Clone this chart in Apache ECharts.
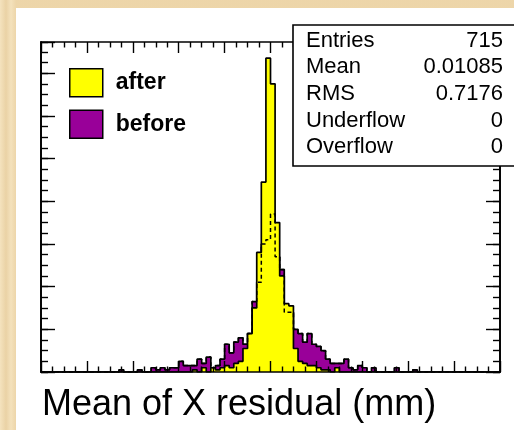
<!DOCTYPE html>
<html>
<head>
<meta charset="utf-8">
<script src="https://cdn.jsdelivr.net/npm/echarts@6/dist/echarts.min.js"></script>
<style>
html,body{margin:0;padding:0;width:514px;height:430px;overflow:hidden;
  background:#efd9ae;
  background-image:linear-gradient(90deg, rgba(255,245,220,0.35) 0px, rgba(220,190,140,0.25) 6px, rgba(255,245,220,0.3) 11px, rgba(230,200,150,0.2) 16px);}
#paper{position:absolute;left:16px;top:8px;width:498px;height:422px;background:#ffffff;}
#chart{position:absolute;left:0;top:0;width:514px;height:430px;}
</style>
</head>
<body>
<div id="paper"></div>
<div id="chart"></div>
<script>
// ---- data ----
const X_MIN = -5, X_MAX = 5, BIN_WIDTH = 0.1;
const Y_MAX = 154.6;
const afterCounts = [
  0,0,0,0,0,0,0,0,0,0,
  0,0,0,0,0,0,0,0,0,0,
  0,0,0,0,0,0,0,0,0,0,
  0,0,0,1,0,2,0,2,1,2,
  3,2,4,5,11,18,30,56,89,147,
  135,70,45,32,31,11,5,4,3,3,
  2,1,1,0,2,0,0,0,0,0,
  0,0,0,0,0,0,0,0,0,0,
  0,0,0,0,0,0,0,0,0,0,
  0,0,0,0,0,0,0,0,0,0
];
const beforeCounts = [
  0,0,0,0,0,0,0,0,0,0,
  0,0,0,0,0,0,0,1,0,0,
  0,1,0,0,2,1,2,1,2,2,
  5,3,3,3,6,4,7,2,3,6,
  13,9,14,16,13,18,33,42,60,62,
  74,54,48,28,28,20,18,14,18,13,
  12,10,6,4,4,4,6,2,1,3,
  2,0,2,0,0,0,0,2,0,0,
  0,1,0,0,0,0,0,0,0,0,
  0,0,0,0,0,0,0,0,0,0
];
const legendNames = ['after', 'before'];
const statsLabels = ['Entries', 'Mean', 'RMS', 'Underflow', 'Overflow'];
const statsValues = ['715', '0.01085', '0.7176', '0', '0'];
const axisTitle = 'Mean of X residual (mm)';

// ---- styles ----
const YELLOW = '#ffff00';
const PURPLE = '#990099';
const FONT = '"Liberation Sans", Arial, Helvetica, sans-serif';

function steps(counts) {
  const pts = counts.map((c, i) => [X_MIN + i * BIN_WIDTH, c]);
  pts.push([X_MAX, counts[counts.length - 1]]);
  return pts;
}

const chart = echarts.init(document.getElementById('chart'), null, {renderer: 'canvas'});

const axisBase = {
  type: 'value',
  axisLabel: {show: false},
  splitLine: {show: false},
  axisLine: {show: true, onZero: false, lineStyle: {color: '#000', width: 1.7}},
  z: 10
};
function xAx(pos) {
  return Object.assign({}, axisBase, {
    position: pos, min: X_MIN, max: X_MAX, interval: 1,
    axisTick: {show: true, inside: true, length: 11, lineStyle: {color: '#000', width: 1.4}},
    minorTick: {show: true, splitNumber: 4, length: 5.5, lineStyle: {color: '#000', width: 1.4}}
  });
}
function yAx(pos, interval, len) {
  return Object.assign({}, axisBase, {
    position: pos, min: 0, max: Y_MAX, interval: interval,
    axisTick: {show: true, inside: true, length: len, lineStyle: {color: '#000', width: 1.4}}
  });
}

const graphics = [
  {type: 'rect', z: 100, zlevel: 0, shape: {x: 293, y: 25, width: 240, height: 141},
   style: {fill: '#fff', stroke: '#000', lineWidth: 1.6}}
];
statsLabels.forEach((lab, k) => {
  const y = 40.5 + 26.7 * k;
  graphics.push({type: 'text', z: 101, zlevel: 0, style: {text: lab, x: 306, y: y, font: '22px ' + FONT, fill: '#000',
    align: 'left', verticalAlign: 'middle', textAlign: 'left', textVerticalAlign: 'middle'}});
  graphics.push({type: 'text', z: 101, zlevel: 0, style: {text: statsValues[k], x: 503, y: y, font: '22px ' + FONT, fill: '#000',
    align: 'right', verticalAlign: 'middle', textAlign: 'right', textVerticalAlign: 'middle'}});
});
graphics.push({type: 'text', z: 101, zlevel: 0, style: {text: axisTitle, x: 42, y: 405, font: '36px ' + FONT, fill: '#000',
  align: 'left', verticalAlign: 'middle', textAlign: 'left', textVerticalAlign: 'middle'}});

const option = {
  animation: false,
  backgroundColor: 'transparent',
  grid: {left: 41, top: 42, width: 459, height: 330, containLabel: false, outerBoundsMode: 'none'},
  xAxis: [xAx('bottom'), xAx('top')],
  yAxis: [yAx('left', 20, 14), yAx('left', 5, 7), yAx('right', 20, 14), yAx('right', 5, 7)],
  legend: {
    left: 69, top: 68, orient: 'vertical', padding: 0, itemGap: 12,
    itemWidth: 33, itemHeight: 28, icon: 'rect', selectedMode: false,
    data: [
      {name: legendNames[0], itemStyle: {color: YELLOW, borderColor: '#000', borderWidth: 1.5}},
      {name: legendNames[1], itemStyle: {color: PURPLE, borderColor: '#000', borderWidth: 1.5}}
    ],
    textStyle: {fontSize: 23, fontWeight: 'bold', color: '#000', fontFamily: FONT, padding: [0, 0, 0, 8]}
  },
  series: [
    {type: 'line', name: 'before', data: steps(beforeCounts), step: 'end', symbol: 'none', showSymbol: false,
     xAxisIndex: 0, yAxisIndex: 0, z: 2,
     lineStyle: {color: '#000', width: 1.7}, itemStyle: {color: PURPLE},
     areaStyle: {color: PURPLE, opacity: 1}},
    {type: 'line', name: 'after', data: steps(afterCounts), step: 'end', symbol: 'none', showSymbol: false,
     xAxisIndex: 0, yAxisIndex: 0, z: 3,
     lineStyle: {color: '#000', width: 1.7}, itemStyle: {color: YELLOW},
     areaStyle: {color: YELLOW, opacity: 1}},
    {type: 'line', name: 'before (outline)', data: steps(beforeCounts), step: 'end', symbol: 'none', showSymbol: false,
     xAxisIndex: 0, yAxisIndex: 0, z: 4,
     lineStyle: {color: '#000', width: 1.5, type: [4, 3]}}
  ],
  graphic: graphics
};
chart.setOption(option);
</script>
</body>
</html>
